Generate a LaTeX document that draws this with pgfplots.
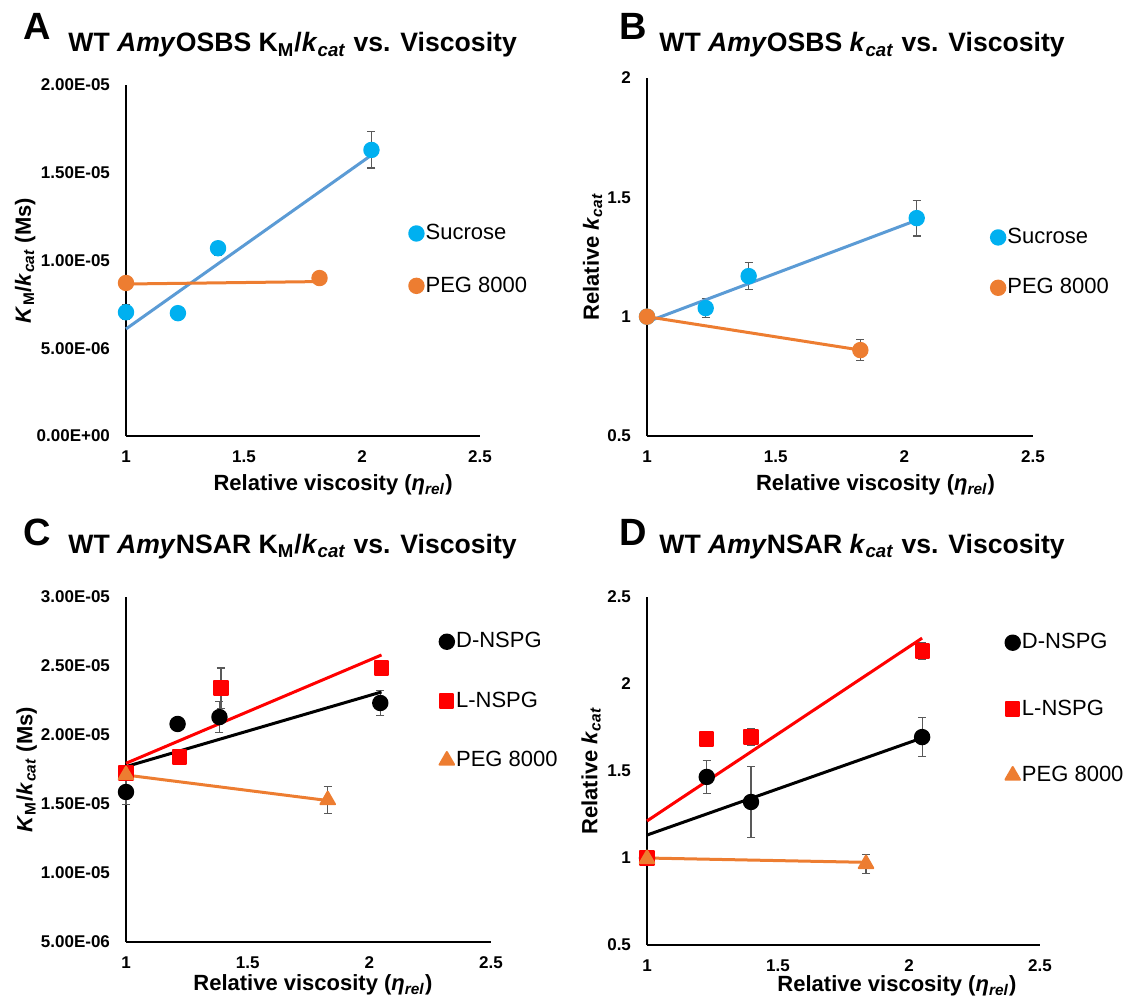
\documentclass[border=0pt]{standalone}
\usepackage{fontspec}
\setmainfont{Liberation Sans}
\usepackage{pgfplots}
\pgfplotsset{compat=1.18}

\definecolor{sucmark}{HTML}{00B0F0}
\definecolor{sucline}{HTML}{5B9BD5}
\definecolor{pegor}{HTML}{ED7D31}
\definecolor{errgray}{HTML}{595959}
\definecolor{lred}{HTML}{FF0000}

\pgfplotsset{
  panel/.style={
    scale only axis, clip=false, scaled y ticks=false,
    axis lines*=left, axis line style={-, line width=0.7pt, black},
    xmin=1, xmax=2.5, xtick={1,1.5,2,2.5}, xticklabels={1,1.5,2,2.5},
    major tick length=0pt,
    tick label style={font=\bfseries\fontsize{8.5}{10}\selectfont},
    xticklabel style={yshift=-4pt},
    yticklabel style={xshift=-4.5pt},
    label style={font=\bfseries\fontsize{11}{13}\selectfont},
    ylabel style={anchor=center},
    xlabel style={anchor=center},
    legend cell align=left,
    legend style={draw=none, fill=none, font=\fontsize{11}{13}\selectfont,
      inner sep=0pt, nodes={inner sep=1pt}, anchor=north west},
    legend image code/.code={\draw[#1] plot coordinates {(4pt,0pt)};},
  },
  pts/.style n args={3}{only marks, mark=#2, mark size=#3,
    mark options={draw=#1, fill=#1, line width=1pt, line join=round, solid},
    /pgfplots/error bars/y dir=both, /pgfplots/error bars/y explicit,
    /pgfplots/error bars/error bar style={errgray, line width=0.6pt},
    /pgfplots/error bars/error mark options={errgray, rotate=90, mark size=2pt, line width=0.6pt}},
  trend/.style={#1, line width=1.5pt, forget plot, no marks},
}

\newcommand{\kmk}{\textit{K}\textsubscript{M}/\textit{k}\textsubscript{\textit{cat}} (Ms)}
\newcommand{\relv}{Relative viscosity (\textit{η}\textsubscript{\textit{rel}})}

\begin{document}
\begin{tikzpicture}
\useasboundingbox (0,0) rectangle (569pt,-500pt);

% A
\begin{axis}[panel, at={(63pt,-218pt)}, anchor=south west, width=177pt, height=175.5pt,
  ymin=0, ymax=2e-5, ytick={0,5e-6,1e-5,1.5e-5,2e-5},
  yticklabels={0.00E+00,5.00E-06,1.00E-05,1.50E-05,2.00E-05},
  xlabel={\relv}, xlabel style={at={(axis description cs:0.585,-0.14)}},
  ylabel={\kmk}, ylabel style={at={(axis description cs:-0.285,0.5)}},
  legend style={at={(axis description cs:0.799,0.61)}, row sep=15pt}]
\addplot[pts={sucmark}{*}{3.6pt}] coordinates {(1,7.05e-6) +- (0,0.43e-6) (1.22,7.0e-6) +- (0,0) (1.39,1.07e-5) +- (0,0.4e-6) (2.04,1.63e-5) +- (0,1.03e-6)};
\addlegendentry{Sucrose}
\addplot[pts={pegor}{*}{3.6pt}] coordinates {(1,8.72e-6) +- (0,0) (1.82,9.0e-6) +- (0,0)};
\addlegendentry{PEG 8000}
\addplot[trend=sucline] coordinates {(1,6.1e-6) (2.05,1.61e-5)};
\addplot[trend=pegor] coordinates {(1,8.66e-6) (1.82,8.8e-6)};
\end{axis}

% B
\begin{axis}[panel, at={(323.5pt,-218pt)}, anchor=south west, width=193pt, height=179pt,
  ymin=0.5, ymax=2, ytick={0.5,1,1.5,2}, yticklabels={0.5,1,1.5,2},
  xlabel={\relv}, xlabel style={at={(axis description cs:0.592,-0.137)}},
  ylabel={Relative \textit{k}\textsubscript{\textit{cat}}}, ylabel style={at={(axis description cs:-0.141,0.5)}},
  legend style={at={(axis description cs:0.89,0.587)}, row sep=14pt}]
\addplot[pts={sucmark}{*}{3.6pt}] coordinates {(1,1.0) +- (0,0) (1.228,1.036) +- (0,0.04) (1.395,1.17) +- (0,0.056) (2.048,1.413) +- (0,0.075)};
\addlegendentry{Sucrose}
\addplot[pts={pegor}{*}{3.6pt}] coordinates {(1,1.0) +- (0,0) (1.829,0.86) +- (0,0.044)};
\addlegendentry{PEG 8000}
\addplot[trend=sucline] coordinates {(1,0.978) (2.05,1.405)};
\addplot[trend=pegor] coordinates {(1,1.0) (1.83,0.86)};
\end{axis}

% C
\begin{axis}[panel, at={(63pt,-471pt)}, anchor=south west, width=182.5pt, height=172.5pt,
  ymin=5e-6, ymax=3e-5, ytick={5e-6,1e-5,1.5e-5,2e-5,2.5e-5,3e-5},
  yticklabels={5.00E-06,1.00E-05,1.50E-05,2.00E-05,2.50E-05,3.00E-05},
  xlabel={\relv}, xlabel style={at={(axis description cs:0.512,-0.125)}},
  ylabel={\kmk}, ylabel style={at={(axis description cs:-0.272,0.5)}},
  legend style={at={(axis description cs:0.858,0.904)}, row sep=18.5pt}]
\addplot[pts={black}{*}{3.6pt}] coordinates {(1,1.587e-5) +- (0,0.09e-5) (1.212,2.08e-5) +- (0,0.03e-5) (1.384,2.13e-5) +- (0,0.11e-5) (2.045,2.232e-5) +- (0,0.09e-5)};
\addlegendentry{D-NSPG}
\addplot[pts={lred}{square*}{3.3pt}] coordinates {(1,1.725e-5) +- (0,0) (1.22,1.84e-5) +- (0,0.02e-5) (1.39,2.34e-5) +- (0,0.145e-5) (2.05,2.486e-5) +- (0,0.03e-5)};
\addlegendentry{L-NSPG}
\addplot[pts={pegor}{triangle*}{4.2pt}] coordinates {(1,1.71e-5) +- (0,0) (1.829,1.529e-5) +- (0,0.097e-5)};
\addlegendentry{PEG 8000}
\addplot[trend=black] coordinates {(1,1.771e-5) (2.05,2.312e-5)};
\addplot[trend=lred] coordinates {(1,1.795e-5) (2.05,2.58e-5)};
\addplot[trend=pegor] coordinates {(1,1.71e-5) (1.83,1.525e-5)};
\end{axis}

% D
\begin{axis}[panel, at={(323.5pt,-472.5pt)}, anchor=south west, width=196.5pt, height=174pt,
  ymin=0.5, ymax=2.5, ytick={0.5,1,1.5,2,2.5}, yticklabels={0.5,1,1.5,2,2.5},
  xlabel={\relv}, xlabel style={at={(axis description cs:0.636,-0.118)}},
  ylabel={Relative \textit{k}\textsubscript{\textit{cat}}}, ylabel style={at={(axis description cs:-0.1425,0.5)}},
  legend style={at={(axis description cs:0.911,0.902)}, row sep=22pt}]
\addplot[pts={black}{*}{3.6pt}] coordinates {(1,1.0) +- (0,0) (1.228,1.466) +- (0,0.094) (1.397,1.322) +- (0,0.204) (2.05,1.695) +- (0,0.113)};
\addlegendentry{D-NSPG}
\addplot[pts={lred}{square*}{3.3pt}] coordinates {(1,1.0) +- (0,0) (1.228,1.684) +- (0,0.02) (1.397,1.695) +- (0,0.05) (2.05,2.19) +- (0,0.05)};
\addlegendentry{L-NSPG}
\addplot[pts={pegor}{triangle*}{4.2pt}] coordinates {(1,0.995) +- (0,0) (1.836,0.966) +- (0,0.055)};
\addlegendentry{PEG 8000}
\addplot[trend=black] coordinates {(1,1.132) (2.05,1.69)};
\addplot[trend=lred] coordinates {(1,1.213) (2.05,2.264)};
\addplot[trend=pegor] coordinates {(1,1.0) (1.84,0.975)};
\end{axis}

% panel letters and titles
\begin{scope}[every node/.style={anchor=base west, inner sep=0pt}]
\node[font=\bfseries\fontsize{19}{22}\selectfont] at (11.5pt,-20pt) {A};
\node[font=\bfseries\fontsize{13.3}{16}\selectfont] at (34pt,-26pt) {WT \textit{Amy}OSBS K\textsubscript{M}/\textit{k}\textsubscript{\textit{cat}} vs. Viscosity};
\node[font=\bfseries\fontsize{19}{22}\selectfont] at (309.5pt,-20pt) {B};
\node[font=\bfseries\fontsize{13.3}{16}\selectfont] at (329.5pt,-26pt) {WT \textit{Amy}OSBS \textit{k}\textsubscript{\textit{cat}} vs. Viscosity};
\node[font=\bfseries\fontsize{19}{22}\selectfont] at (11.5pt,-272.5pt) {C};
\node[font=\bfseries\fontsize{13.3}{16}\selectfont] at (34pt,-276.5pt) {WT \textit{Amy}NSAR K\textsubscript{M}/\textit{k}\textsubscript{\textit{cat}} vs. Viscosity};
\node[font=\bfseries\fontsize{19}{22}\selectfont] at (309.5pt,-272.5pt) {D};
\node[font=\bfseries\fontsize{13.3}{16}\selectfont] at (329.5pt,-276.5pt) {WT \textit{Amy}NSAR \textit{k}\textsubscript{\textit{cat}} vs. Viscosity};
\end{scope}
\end{tikzpicture}
\end{document}
